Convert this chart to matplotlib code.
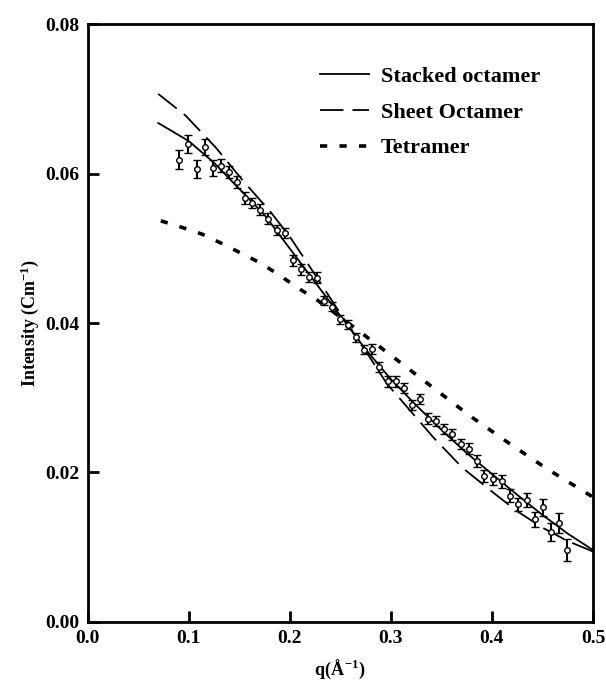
import matplotlib
matplotlib.use("Agg")
import matplotlib.pyplot as plt
from matplotlib.lines import Line2D

plt.rcParams['font.family'] = ['Liberation Serif', 'DejaVu Serif']
plt.rcParams['font.weight'] = 'bold'
plt.rcParams['mathtext.fontset'] = 'custom'
plt.rcParams['mathtext.rm'] = 'Liberation Serif:bold'
plt.rcParams['mathtext.bf'] = 'Liberation Serif:bold'
plt.rcParams['mathtext.it'] = 'Liberation Serif:bold'

# measured data
q_data = [0.0902, 0.0991, 0.1080, 0.1159, 0.1238, 0.1317, 0.1396, 0.1474, 0.1553, 0.1632,
          0.1711, 0.1790, 0.1879, 0.1958, 0.2036, 0.2115, 0.2194, 0.2273, 0.2342, 0.2421,
          0.2500, 0.2579, 0.2658, 0.2737, 0.2815, 0.2885, 0.2973, 0.3052, 0.3131, 0.3210,
          0.3289, 0.3368, 0.3447, 0.3526, 0.3604, 0.3693, 0.3772, 0.3851, 0.3920, 0.4009,
          0.4098, 0.4176, 0.4255, 0.4344, 0.4423, 0.4502, 0.4581, 0.4660, 0.4739]
i_data = [0.0619, 0.0640, 0.0607, 0.0636, 0.0608, 0.0611, 0.0603, 0.0589, 0.0568, 0.0561,
          0.0552, 0.0540, 0.0525, 0.0521, 0.0484, 0.0472, 0.0462, 0.0461, 0.0430, 0.0422,
          0.0405, 0.0398, 0.0381, 0.0364, 0.0365, 0.0341, 0.0322, 0.0322, 0.0313, 0.0290,
          0.0298, 0.0272, 0.0269, 0.0258, 0.0251, 0.0238, 0.0232, 0.0215, 0.0195, 0.0191,
          0.0188, 0.0169, 0.0157, 0.0163, 0.0137, 0.0153, 0.0120, 0.0132, 0.0096]
i_err = [0.0013, 0.0012, 0.0012, 0.0011, 0.0011, 0.0009, 0.0008, 0.0008, 0.0008, 0.0007,
         0.0007, 0.0007, 0.0007, 0.0007, 0.0007, 0.0007, 0.0007, 0.0007, 0.0006, 0.0006,
         0.0006, 0.0006, 0.0006, 0.0006, 0.0007, 0.0007, 0.0007, 0.0007, 0.0007, 0.0007,
         0.0007, 0.0007, 0.0007, 0.0007, 0.0007, 0.0007, 0.0007, 0.0008, 0.0008, 0.0008,
         0.0009, 0.0009, 0.0009, 0.0010, 0.0010, 0.0011, 0.0012, 0.0013, 0.0015]

# model curves
q_stacked = [0.07, 0.10, 0.125, 0.15, 0.175, 0.20, 0.225, 0.25, 0.275, 0.30,
             0.325, 0.35, 0.375, 0.40, 0.425, 0.45, 0.475, 0.50]
i_stacked = [0.0668, 0.0644, 0.0615, 0.0580, 0.0545, 0.0500, 0.0455, 0.0410, 0.0365, 0.0325,
             0.0290, 0.0257, 0.0226, 0.0198, 0.0170, 0.0143, 0.0118, 0.0096]

q_sheet = [0.07, 0.097, 0.127, 0.153, 0.181, 0.20, 0.225, 0.25, 0.275, 0.296,
           0.321, 0.342, 0.371, 0.405, 0.425, 0.45, 0.475, 0.50]
i_sheet = [0.0707, 0.0678, 0.0635, 0.0592, 0.0549, 0.0516, 0.0465, 0.0413, 0.0363, 0.0319,
           0.0280, 0.0247, 0.0206, 0.0169, 0.0148, 0.0126, 0.0108, 0.0094]

q_tetra = [0.0725, 0.0939, 0.1136, 0.1323, 0.1514, 0.1704, 0.189, 0.207, 0.227, 0.264,
           0.301, 0.3404, 0.378, 0.417, 0.4554, 0.50]
i_tetra = [0.0537, 0.0528, 0.0519, 0.0507, 0.0494, 0.0481, 0.0465, 0.0448, 0.0431, 0.0394,
           0.0356, 0.0315, 0.0276, 0.0239, 0.0204, 0.0167]

labels = ["Stacked octamer", "Sheet Octamer", "Tetramer"]
x_ticks = [0.0, 0.1, 0.2, 0.3, 0.4, 0.5]
y_ticks = [0.00, 0.02, 0.04, 0.06, 0.08]

fig = plt.figure(figsize=(6.06, 6.90), dpi=100)
ax = fig.add_axes([0.1444, 0.099, 0.8341, 0.8655])

ax.plot(q_stacked, i_stacked, color='black', lw=1.3, linestyle='-')
ax.plot(q_sheet, i_sheet, color='black', lw=1.3, linestyle=(0, (13, 5)))
ax.plot(q_tetra, i_tetra, color='black', lw=2.6, linestyle=(0, (2, 3.4)),
        dash_capstyle='butt')
ax.errorbar(q_data, i_data, yerr=i_err, fmt='o', mfc='white', mec='black', mew=1.0,
            ms=4, ecolor='black', elinewidth=1.5, capsize=3, capthick=1.5, zorder=5)

ax.set_xlim(0.0, 0.5)
ax.set_ylim(0.0, 0.08)
ax.set_xticks(x_ticks)
ax.set_yticks(y_ticks)
ax.set_xticklabels([f"{v:.1f}" for v in x_ticks])
ax.set_yticklabels([f"{v:.2f}" for v in y_ticks])
ax.tick_params(direction='in', length=8, width=2, labelsize=14, pad=6)
for s in ax.spines.values():
    s.set_linewidth(2)

ax.set_xlabel(r"q($\AA^{-1}$)", fontsize=13, fontweight='bold', labelpad=8)
ax.set_ylabel(r"Intensity (Cm$^{-1}$)", fontsize=13, fontweight='bold', labelpad=3)

handles = [Line2D([], [], color='black', lw=1.3, linestyle='-'),
           Line2D([], [], color='black', lw=1.3, linestyle=(0, (13, 5))),
           Line2D([], [], color='black', lw=2.6, linestyle=(0, (2, 3.4)), dash_capstyle='butt')]
ax.legend(handles, labels, loc='upper left', bbox_to_anchor=(0.42, 0.963), frameon=False,
          prop={'family': 'Liberation Serif', 'weight': 'bold', 'size': 16},
          handlelength=2.2, handletextpad=0.55, labelspacing=0.68)

fig.savefig("out.png", dpi=100)
